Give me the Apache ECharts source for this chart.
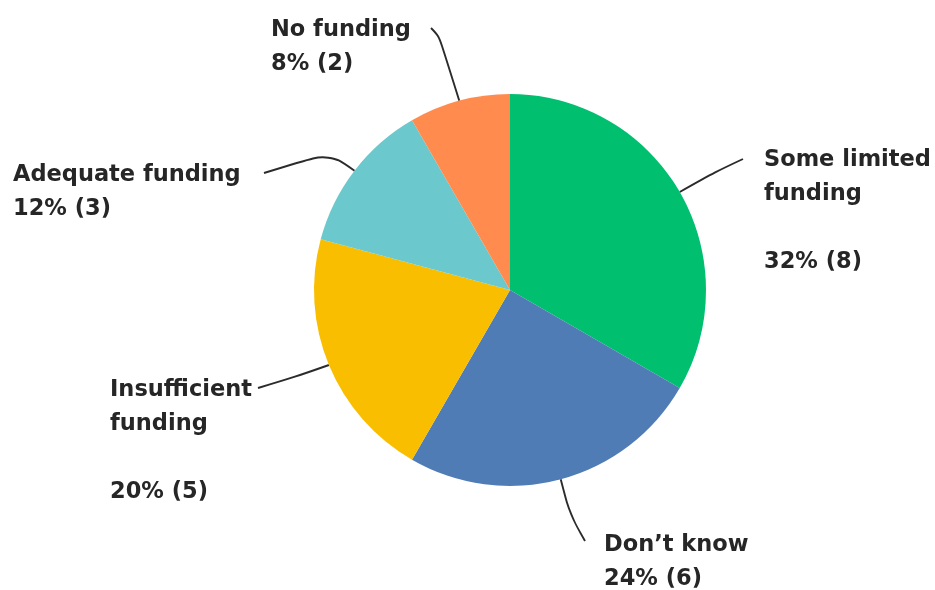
<!DOCTYPE html>
<html>
<head>
<meta charset="utf-8">
<script src="https://cdn.jsdelivr.net/npm/echarts@6/dist/echarts.min.js"></script>
<style>
  html, body { margin: 0; padding: 0; background: #ffffff; }
  #chart { width: 935px; height: 590px; }
</style>
</head>
<body>
<div id="chart"></div>
<script>
// Responses per funding category, clockwise from 12 o'clock
const categories = ['Some limited funding', 'Don\u2019t know', 'Insufficient funding', 'Adequate funding', 'No funding'];
const counts = [8, 6, 5, 3, 2];
// Percentages are taken over everyone who answered the survey
const respondents = 25;
const sliceColors = ['#00BF6F', '#507CB6', '#F9BE00', '#6BC8CD', '#FF8B4F'];

// Long names wrap onto two lines, followed by a blank line before the figure
const wrappedNames = {
  'Some limited funding': 'Some limited\nfunding',
  'Insufficient funding': 'Insufficient\nfunding'
};

// Top-left anchor of each label block, plus the bend and end of its leader line
const labelSpots = [
  { x: 764, y: 143, bend: [715, 172], end: [743, 159] },
  { x: 604, y: 528, bend: [570, 515], end: [585, 541] },
  { x: 110, y: 373, bend: [295, 377], end: [258, 388] },
  { x: 13, y: 158, bend: [329, 153], end: [264, 173] },
  { x: 271, y: 13, bend: [439, 36], end: [431, 28] }
];

const chart = echarts.init(document.getElementById('chart'), null, { renderer: 'canvas' });

chart.setOption({
  animation: false,
  backgroundColor: '#ffffff',
  series: [{
    type: 'pie',
    center: [510, 290],
    radius: 196,
    startAngle: 90,
    clockwise: true,
    data: categories.map((name, i) => ({
      name: name,
      value: counts[i],
      itemStyle: { color: sliceColors[i] }
    })),
    itemStyle: { borderWidth: 0 },
    emphasis: { disabled: true },
    label: {
      show: true,
      position: 'outside',
      color: '#262626',
      fontFamily: 'DejaVu Sans',
      fontWeight: 'bold',
      fontSize: 22.5,
      lineHeight: 34,
      formatter: function (p) {
        const pct = Math.round(p.value / respondents * 100) + '% (' + p.value + ')';
        const wrapped = wrappedNames[p.name];
        return wrapped ? wrapped + '\n\n' + pct : p.name + '\n' + pct;
      }
    },
    labelLine: {
      show: true,
      smooth: 0.35,
      length: 20,
      length2: 20,
      lineStyle: { color: '#2b2b2b', width: 1.9 }
    },
    labelLayout: function (params) {
      const s = labelSpots[params.dataIndex];
      const start = params.labelLinePoints ? params.labelLinePoints[0] : null;
      const out = { x: s.x, y: s.y, align: 'left', verticalAlign: 'top' };
      if (start) {
        out.labelLinePoints = [start, s.bend, s.end];
      }
      return out;
    }
  }]
});
</script>
</body>
</html>
